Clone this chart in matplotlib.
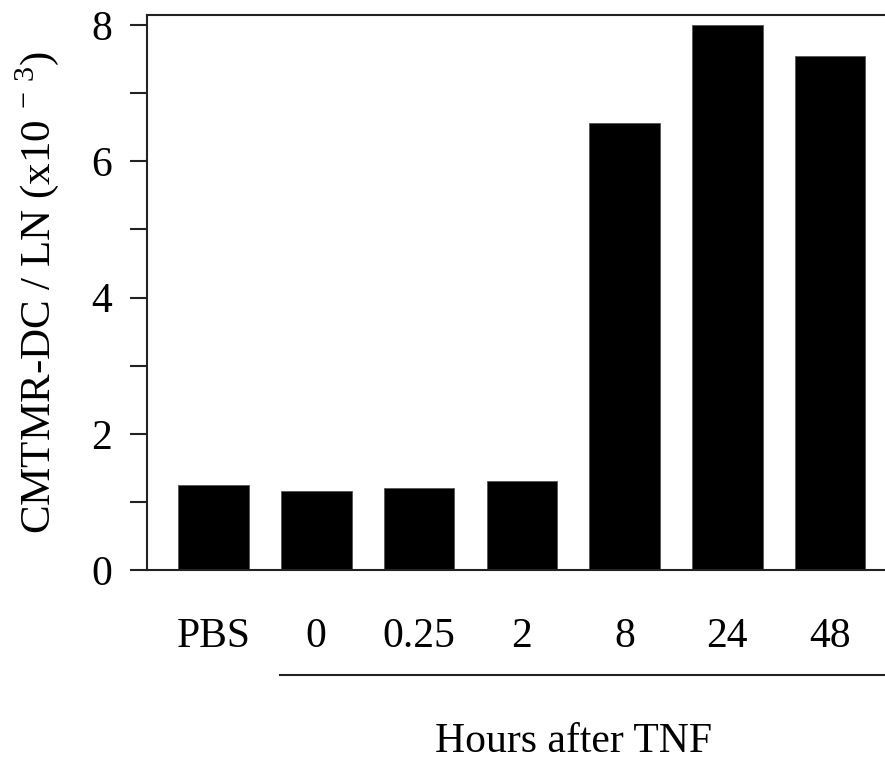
import matplotlib
matplotlib.use("Agg")
import matplotlib.pyplot as plt
from matplotlib.lines import Line2D

categories = ["PBS", "0", "0.25", "2", "8", "24", "48"]
values = [1.25, 1.165, 1.21, 1.31, 6.56, 8.0, 7.55]
y_major = [0, 2, 4, 6, 8]
y_minor = [1, 3, 5, 7]

plt.rcParams['font.family'] = ['Liberation Serif', 'DejaVu Serif']
plt.rcParams['mathtext.fontset'] = 'custom'
plt.rcParams['mathtext.rm'] = 'Liberation Serif'

W, H = 885, 762
fig = plt.figure(figsize=(W / 100, H / 100), dpi=100)
ax = fig.add_axes([147 / W, 1 - 570 / H, (W - 147) / W + 0.01, (570 - 15) / H])

x = list(range(len(categories)))
ax.bar(x, values, width=0.686, color='black', edgecolor='#555555', linewidth=0.6)

ax.set_ylim(0, 8.147)
ax.set_xlim(-0.647, 6.62)
ax.set_yticks(y_major)
ax.set_yticks(y_minor, minor=True)
ax.set_xticks(x)
ax.set_xticklabels(categories)

for s in ['left', 'bottom', 'top']:
    ax.spines[s].set_linewidth(1.5)
    ax.spines[s].set_color('#222222')
ax.spines['right'].set_visible(False)

ax.tick_params(axis='y', which='both', length=12, width=1.5, color='#222222',
               labelsize=30, pad=13)
ax.tick_params(axis='x', length=0, labelsize=30, pad=34)

ax.set_ylabel("CMTMR-DC / LN (x10 $^{\\mathregular{-\\ 3}}$)", fontsize=31, labelpad=22)

fig.add_artist(Line2D([280 / W, 1.0], [1 - 675 / H, 1 - 675 / H], color='#222222',
                      linewidth=1.5, transform=fig.transFigure))
fig.text(574 / W, 1 - 742 / H, "Hours after TNF", fontsize=30, ha='center', va='center')

fig.savefig("out.png", dpi=100)
